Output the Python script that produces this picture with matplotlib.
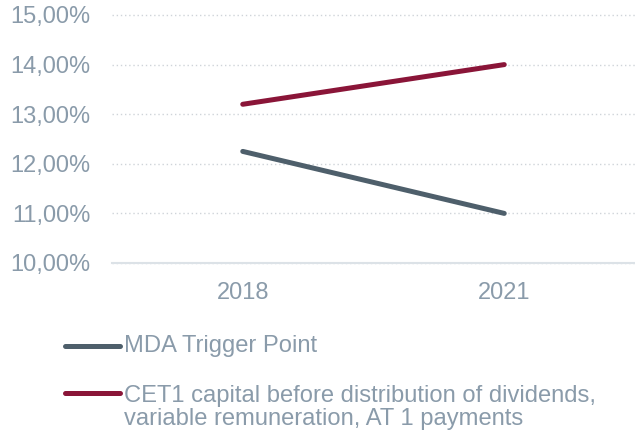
import matplotlib
matplotlib.use("Agg")
import matplotlib.pyplot as plt
from matplotlib.lines import Line2D
from matplotlib.ticker import FuncFormatter

# data
years = ["2018", "2021"]
mda_trigger = [12.25, 11.00]
cet1_before_dist = [13.20, 14.00]
labels = ["MDA Trigger Point",
          "CET1 capital before distribution of dividends,\nvariable remuneration, AT 1 payments"]

text_col = "#8A9BAA"
mda_col = "#4E5F6B"
cet_col = "#8A1538"

plt.rcParams["font.family"] = ["Liberation Sans", "DejaVu Sans"]

fig = plt.figure(figsize=(6.35, 4.33), dpi=100)
ax = fig.add_axes([112 / 635, 1 - 263 / 433, 523 / 635, 248 / 433])

x = range(len(years))
ax.plot(x, mda_trigger, color=mda_col, lw=3.6, solid_capstyle="round")
ax.plot(x, cet1_before_dist, color=cet_col, lw=3.6, solid_capstyle="round")

ax.set_xlim(-0.5, len(years) - 0.5)
ax.set_ylim(10, 15)
ax.set_xticks(list(x))
ax.set_xticklabels(years)
ax.set_yticks([10, 11, 12, 13, 14, 15])
ax.yaxis.set_major_formatter(FuncFormatter(lambda v, p: f"{v:.2f}".replace(".", ",") + "%"))

ax.tick_params(axis="both", length=0, labelsize=17, labelcolor=text_col)
ax.tick_params(axis="y", pad=15.5)
ax.tick_params(axis="x", pad=13.5)

for s in ["top", "right", "left"]:
    ax.spines[s].set_visible(False)
ax.spines["bottom"].set_color("#DCE2E7")
ax.spines["bottom"].set_linewidth(1.5)

ax.grid(axis="y", linestyle=(0, (1, 2)), color="#CFD4D9", lw=1)
ax.set_axisbelow(True)
for gl in ax.get_ygridlines():
    gl.set_clip_on(False)

# legend drawn below the plot: handle y, first baseline y, colour
leg_rows = [(346, 352, mda_col), (393, 402, cet_col)]
line_step = 23  # px between wrapped lines
for (yh, yb, col), lab in zip(leg_rows, labels):
    fig.add_artist(Line2D([65 / 635, 120 / 635], [1 - yh / 433, 1 - yh / 433],
                          color=col, lw=3.6, solid_capstyle="round",
                          transform=fig.transFigure))
    for i, part in enumerate(lab.split("\n")):
        fig.text(124 / 635, 1 - (yb + i * line_step) / 433, part, fontsize=17.1,
                 color=text_col, ha="left", va="baseline")

fig.savefig("out.png", dpi=100)
